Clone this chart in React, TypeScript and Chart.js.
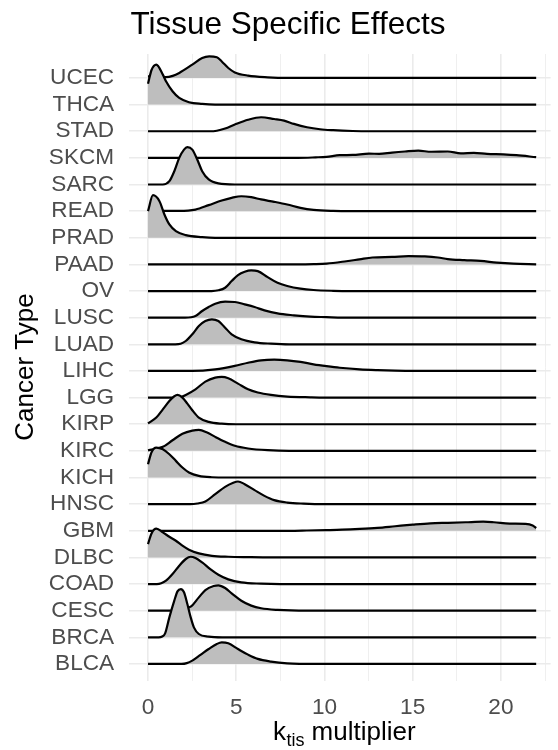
import React, { useEffect, useRef } from 'react';
import { Chart, registerables } from 'chart.js';

Chart.register(...registerables);

// Categories, top to bottom
const categories = ['UCEC', 'THCA', 'STAD', 'SKCM', 'SARC', 'READ', 'PRAD', 'PAAD', 'OV', 'LUSC', 'LUAD', 'LIHC', 'LGG', 'KIRP', 'KIRC', 'KICH', 'HNSC', 'GBM', 'DLBC', 'COAD', 'CESC', 'BRCA', 'BLCA'];

// Ridge profiles: [k_tis multiplier, scaled density height (in rows)]
const UCEC = [[0, 0.06], [0.5, 0.05], [1.02, 0.03], [1.4, 0.08], [1.77, 0.19], [2.51, 0.5], [3.07, 0.75], [3.47, 0.81], [3.9, 0.78], [4.18, 0.62], [4.55, 0.375], [4.92, 0.21], [5.67, 0.09], [6.78, 0.025], [7.9, 0], [22, 0]];
const THCA = [[0, 0.78], [0.2, 1.3], [0.47, 1.5], [0.84, 1.125], [1.02, 0.875], [1.39, 0.5], [1.77, 0.25], [2.32, 0.09], [3.07, 0.025], [3.8, 0], [22, 0]];
const STAD = [[0, 0], [3.5, 0], [3.9, 0.02], [4.37, 0.1], [4.92, 0.25], [5.67, 0.43], [6.41, 0.525], [7.15, 0.46], [7.71, 0.4], [8.27, 0.275], [9.01, 0.15], [9.75, 0.075], [10.49, 0.04], [11.6, 0.01], [12.5, 0], [22, 0]];
const SKCM = [[0, 0], [8.5, 0], [9.5, 0.02], [10.12, 0.04], [10.86, 0.1], [11.6, 0.11], [12.53, 0.16], [13.1, 0.15], [13.83, 0.2], [14.57, 0.24], [15.32, 0.27], [16.06, 0.23], [16.99, 0.24], [17.73, 0.17], [18.47, 0.19], [19.21, 0.15], [20.14, 0.13], [20.88, 0.1], [22, 0.025]];
const SARC = [[0, 0], [0.84, 0], [1.21, 0.125], [1.49, 0.5], [1.77, 1.0], [2.04, 1.31], [2.23, 1.4], [2.51, 1.31], [2.79, 0.94], [3.07, 0.5], [3.44, 0.19], [3.99, 0.04], [4.92, 0], [22, 0]];
const READ = [[0, 0.03], [1.77, 0.01], [2.69, 0.06], [3.44, 0.225], [4.18, 0.4], [4.74, 0.5], [5.29, 0.56], [5.85, 0.525], [6.41, 0.44], [7.15, 0.35], [7.89, 0.25], [8.64, 0.125], [9.38, 0.05], [10.49, 0.01], [11.5, 0], [22, 0]];
const PRAD = [[0, 1.0], [0.28, 1.6], [0.65, 1.375], [0.93, 0.875], [1.21, 0.5], [1.58, 0.25], [2.14, 0.1], [3.07, 0.025], [3.8, 0], [22, 0]];
const PAAD = [[0, 0], [8.5, 0], [9.4, 0.01], [10.12, 0.03], [11.24, 0.12], [11.98, 0.19], [12.72, 0.26], [13.83, 0.28], [14.76, 0.31], [15.69, 0.3], [16.43, 0.26], [16.99, 0.2], [17.92, 0.16], [18.85, 0.13], [19.77, 0.07], [20.7, 0.03], [22, 0.005]];
const OV = [[0, 0], [3.6, 0], [4.0, 0.03], [4.37, 0.125], [4.74, 0.375], [5.1, 0.6], [5.48, 0.725], [5.85, 0.775], [6.22, 0.75], [6.78, 0.525], [7.34, 0.31], [7.89, 0.19], [8.64, 0.09], [9.38, 0.04], [10.49, 0.01], [11.5, 0], [22, 0]];
const LUSC = [[0, 0], [2.1, 0], [2.69, 0.06], [3.07, 0.25], [3.44, 0.4], [3.81, 0.525], [4.37, 0.6], [4.92, 0.59], [5.48, 0.5], [6.04, 0.4], [6.6, 0.275], [7.34, 0.16], [8.27, 0.09], [9.2, 0.04], [10.12, 0.02], [11, 0], [22, 0]];
const LUAD = [[0, 0], [1.55, 0], [1.85, 0.02], [2.14, 0.125], [2.51, 0.375], [2.88, 0.69], [3.25, 0.875], [3.62, 0.94], [3.99, 0.875], [4.37, 0.625], [4.74, 0.375], [5.29, 0.19], [6.04, 0.075], [6.97, 0.025], [8, 0], [22, 0]];
const LIHC = [[0, 0], [2.5, 0], [3.81, 0.06], [4.92, 0.19], [5.67, 0.31], [6.41, 0.4], [7.15, 0.425], [7.89, 0.4], [8.64, 0.34], [9.38, 0.25], [10.12, 0.18], [10.87, 0.12], [12, 0.06], [13, 0.03], [14, 0.01], [15, 0], [22, 0]];
const LGG = [[0, 0], [1.6, 0], [1.85, 0.02], [2.14, 0.1], [2.69, 0.31], [3.25, 0.6], [3.81, 0.75], [4.18, 0.775], [4.55, 0.725], [5.1, 0.525], [5.67, 0.31], [6.22, 0.19], [6.97, 0.1], [7.89, 0.04], [9.2, 0.01], [10, 0], [22, 0]];
const KIRP = [[0, 0.03], [0.47, 0.25], [0.84, 0.56], [1.21, 0.875], [1.49, 1.05], [1.67, 1.1], [1.95, 1.0], [2.23, 0.775], [2.51, 0.525], [2.88, 0.25], [3.44, 0.09], [4.18, 0.02], [5, 0], [22, 0]];
const KIRC = [[0, 0.02], [0.84, 0.15], [1.39, 0.4], [1.95, 0.64], [2.51, 0.76], [2.88, 0.79], [3.35, 0.69], [3.81, 0.525], [4.37, 0.34], [4.92, 0.19], [5.67, 0.09], [6.78, 0.025], [8, 0], [22, 0]];
const KICH = [[0, 0.5], [0.2, 0.95], [0.47, 1.125], [0.84, 1.06], [1.21, 0.875], [1.58, 0.625], [1.95, 0.375], [2.32, 0.19], [2.88, 0.06], [3.62, 0.01], [4.5, 0], [22, 0]];
const HNSC = [[0, 0], [2.4, 0], [2.8, 0.025], [3.25, 0.1], [3.81, 0.375], [4.37, 0.65], [4.83, 0.8], [5.1, 0.85], [5.48, 0.75], [6.04, 0.525], [6.6, 0.31], [7.15, 0.15], [7.89, 0.06], [8.82, 0.02], [10, 0], [22, 0]];
const GBM = [[0, 0], [8, 0], [9, 0.01], [10.1, 0.025], [11, 0.04], [12, 0.07], [13, 0.11], [14, 0.17], [15, 0.23], [16, 0.28], [17, 0.3], [18, 0.32], [19, 0.34], [19.6, 0.32], [20.5, 0.27], [21.4, 0.26], [21.8, 0.2], [22, 0.1]];
const DLBC = [[0, 0.5], [0.2, 0.9], [0.47, 1.08], [0.84, 0.94], [1.21, 0.775], [1.58, 0.625], [1.95, 0.44], [2.32, 0.29], [2.88, 0.15], [3.62, 0.06], [4.55, 0.025], [5.67, 0.01], [7, 0], [22, 0]];
const COAD = [[0, 0], [0.5, 0], [0.75, 0.03], [1.02, 0.125], [1.39, 0.375], [1.77, 0.69], [2.14, 0.94], [2.42, 1.025], [2.69, 0.975], [3.07, 0.81], [3.53, 0.56], [3.99, 0.35], [4.55, 0.175], [5.29, 0.06], [6.41, 0.015], [7.5, 0], [22, 0]];
const CESC = [[0, 0], [1.2, 0], [1.8, 0.05], [2.42, 0.15], [2.88, 0.5], [3.25, 0.775], [3.72, 0.925], [3.99, 0.95], [4.37, 0.85], [4.74, 0.65], [5.29, 0.375], [5.85, 0.19], [6.41, 0.09], [7.34, 0.03], [9, 0], [22, 0]];
const BRCA = [[0, 0], [0.6, 0], [0.8, 0.03], [0.97, 0.15], [1.21, 0.75], [1.49, 1.375], [1.67, 1.725], [1.86, 1.81], [2.04, 1.69], [2.23, 1.25], [2.42, 0.75], [2.6, 0.375], [2.88, 0.125], [3.44, 0.025], [4.2, 0], [22, 0]];
const BLCA = [[0, 0], [1.9, 0], [2.2, 0.03], [2.51, 0.125], [2.97, 0.34], [3.44, 0.56], [3.9, 0.75], [4.18, 0.81], [4.55, 0.775], [5.1, 0.56], [5.67, 0.35], [6.22, 0.19], [6.97, 0.09], [7.89, 0.025], [9.5, 0], [22, 0]];

const xTickValues = [0, 2.5, 5, 7.5, 10, 12.5, 15, 17.5, 20, 22.5];

const ridgeTable: Record<string, number[][]> = {
  UCEC, THCA, STAD, SKCM, SARC, READ, PRAD, PAAD, OV, LUSC, LUAD, LIHC, LGG,
  KIRP, KIRC, KICH, HNSC, GBM, DLBC, COAD, CESC, BRCA, BLCA,
};

const FONT = "'Liberation Sans', Arial, Helvetica, sans-serif";

export default function App() {
  const ref = useRef<HTMLCanvasElement>(null);

  useEffect(() => {
    const n = categories.length;
    const datasets = categories.map((name, i) => {
      const base = n - 1 - i;
      return {
        label: name,
        data: ridgeTable[name].map(([x, h]) => ({ x, y: base + h })),
        borderColor: '#000000',
        borderWidth: 2.2,
        backgroundColor: '#bebebe',
        fill: { value: base },
        pointRadius: 0,
        pointHoverRadius: 0,
        cubicInterpolationMode: 'monotone' as const,
        order: base,
        clip: false as any,
      };
    });

    const textPlugin = {
      id: 'ridgeTexts',
      afterDraw(chart: any) {
        const ctx = chart.ctx as CanvasRenderingContext2D;
        ctx.save();
        ctx.fillStyle = '#000000';
        // Title
        ctx.font = `31.5px ${FONT}`;
        ctx.textAlign = 'center';
        ctx.textBaseline = 'alphabetic';
        ctx.fillText('Tissue Specific Effects', 288, 33.5);

        // X axis title with subscript
        const big = `26px ${FONT}`;
        const small = `18px ${FONT}`;
        ctx.font = big;
        const wK = ctx.measureText('k').width;
        const wRest = ctx.measureText(' multiplier').width;
        ctx.font = small;
        const wSub = ctx.measureText('tis').width;
        const total = wK + wSub + wRest;
        const x0 = 344 - total / 2;
        const yb = 740;
        ctx.textAlign = 'left';
        ctx.font = big;
        ctx.fillText('k', x0, yb);
        ctx.font = small;
        ctx.fillText('tis', x0 + wK + 0.5, yb + 5.5);
        ctx.font = big;
        ctx.fillText(' multiplier', x0 + wK + wSub + 0.5, yb);

        // Y axis title
        ctx.translate(33, 367);
        ctx.rotate(-Math.PI / 2);
        ctx.font = big;
        ctx.textAlign = 'center';
        ctx.fillText('Cancer Type', 0, 0);
        ctx.restore();
      },
    };

    const chart = new Chart(ref.current as HTMLCanvasElement, {
      type: 'line',
      data: { datasets: datasets as any },
      options: {
        animation: false,
        responsive: false,
        devicePixelRatio: 1,
        layout: { padding: { top: 54, left: 0, right: 0, bottom: 0 } },
        plugins: {
          legend: { display: false },
          tooltip: { enabled: false },
          title: { display: false },
        },
        scales: {
          x: {
            type: 'linear',
            min: -1.1,
            max: 22.82,
            afterBuildTicks: (s: any) => {
              s.ticks = xTickValues.map((v) => ({ value: v }));
            },
            afterFit: (s: any) => {
              s.height = 69;
            },
            grid: {
              color: '#ebebeb',
              lineWidth: (c: any) => (c.tick && c.tick.value % 5 === 0 ? 1.6 : 0.8),
              drawTicks: false,
            },
            border: { display: false },
            ticks: {
              padding: 13,
              color: '#4d4d4d',
              font: { family: FONT, size: 22.6 },
              maxRotation: 0,
              autoSkip: false,
              callback: (v: any) => (Number(v) % 5 === 0 ? String(v) : ''),
            },
          },
          y: {
            type: 'linear',
            min: -0.64,
            max: 22.9,
            afterBuildTicks: (s: any) => {
              s.ticks = categories.map((_, i) => ({ value: i }));
            },
            afterFit: (s: any) => {
              s.width = 128.6;
            },
            grid: { color: '#ebebeb', lineWidth: 1.6, drawTicks: false },
            border: { display: false },
            ticks: {
              padding: 14.5,
              color: '#4d4d4d',
              font: { family: FONT, size: 22.6 },
              autoSkip: false,
              callback: (v: any) => categories[n - 1 - Number(v)],
            },
          },
        },
      } as any,
      plugins: [textPlugin],
    });

    return () => chart.destroy();
  }, []);

  return (
    <div style={{ position: 'absolute', left: 0, top: 0, width: 558, height: 750, background: '#ffffff' }}>
      <canvas ref={ref} width={558} height={750} style={{ display: 'block' }} />
    </div>
  );
}
